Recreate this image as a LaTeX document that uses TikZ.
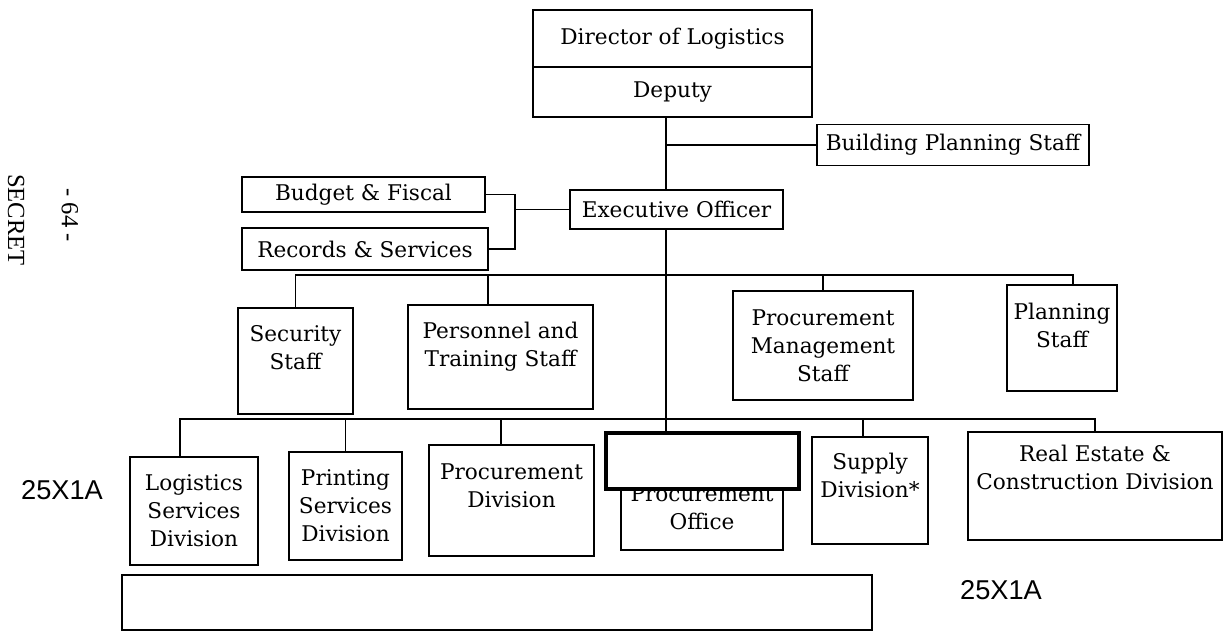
\documentclass[tikz,border=0pt]{standalone}
\usepackage{fontspec}
\setmainfont{DejaVu Serif}
\newfontfamily\secretfont{Liberation Serif}
\newfontfamily\stampfont{Liberation Sans}
\begin{document}
\begin{tikzpicture}[
    box/.style={draw, rectangle, line width=0.9pt, align=center, inner sep=2pt, font=\fontsize{12.3}{16}\selectfont},
    link/.style={line width=0.8pt},
    redact/.style={draw, rectangle, fill=white},
    stamp/.style={font=\stampfont\fontsize{15.5}{18}\selectfont}
  ]
    \useasboundingbox (0,0) rectangle (24.52,-12.64);

    % Margin marks
    \node[font=\secretfont\fontsize{14}{16}\selectfont, rotate=-90, anchor=base, inner sep=0pt] at (0.16,-4.40) (secret) {SECRET};
    \node[font=\secretfont\fontsize{14}{16}\selectfont, rotate=-90] at (1.40,-4.30) (page) {- 64 -};
    \node[stamp] at (1.24,-9.80) (stampleft) {25X1A};
    \node[stamp] at (20.02,-11.80) (stampright) {25X1A};

    % Top of the chart
    \node[box, minimum width=5.58cm, minimum height=1.14cm] at (13.45,-0.77) (director) {Director of Logistics};
    \node[box, minimum width=5.58cm, minimum height=1.00cm] at (13.45,-1.84) (deputy)   {Deputy};
    \node[box, minimum width=5.44cm, minimum height=0.82cm] at (19.06,-2.90) (bps)      {Building Planning Staff};
    \node[box, minimum width=4.26cm, minimum height=0.78cm] at (13.53,-4.19) (exec)     {Executive Officer};
    \node[box, minimum width=4.86cm, minimum height=0.70cm] at (7.27,-3.89)  (budget)   {Budget \& Fiscal};
    \node[box, minimum width=4.92cm, minimum height=0.84cm] at (7.30,-4.98)  (records)  {Records \& Services};

    % Staff offices
    \node[box, minimum width=2.30cm, minimum height=2.12cm, text depth=0.54cm] at (5.91,-7.22)  (security)  {Security\\Staff};
    \node[box, minimum width=3.70cm, minimum height=2.08cm, text depth=0.52cm] at (10.01,-7.14) (personnel) {Personnel and\\Training Staff};
    \node[box, minimum width=3.60cm, minimum height=2.18cm] at (16.46,-6.91) (procmgmt) {Procurement\\Management\\Staff};
    \node[box, minimum width=2.20cm, minimum height=2.12cm, text depth=0.52cm] at (21.24,-6.76) (planning)  {Planning\\Staff};

    % Divisions
    \node[box, minimum width=2.56cm, minimum height=2.16cm] at (3.88,-10.22) (logistics) {Logistics\\Services\\Division};
    \node[box, minimum width=2.26cm, minimum height=2.16cm] at (6.91,-10.12) (printing)  {Printing\\Services\\Division};
    \node[box, minimum width=3.30cm, minimum height=2.22cm, text depth=0.58cm] at (10.23,-10.01) (procdiv) {Procurement\\Division};
    \node[box, minimum width=3.24cm, minimum height=1.70cm] at (14.04,-10.15) (office) {Procurement\\Office};
    \node[box, minimum width=2.32cm, minimum height=2.14cm, text depth=0.60cm] at (17.40,-9.81) (supply) {Supply\\Division*};
    \node[box, minimum width=5.08cm, minimum height=2.16cm, text depth=0.74cm] at (21.90,-9.72) (realestate) {Real Estate \&\\Construction Division};

    % Connections
    \coordinate (trunk) at (13.32,0);
    \coordinate (fork) at (10.30,-4.19);
    \coordinate (staffbar) at (0,-5.50);
    \coordinate (divbar) at (0,-8.38);

    \draw[link] (deputy.south -| trunk) -- (exec.north -| trunk);
    \draw[link] (bps.west) -- (bps.west -| trunk);
    \draw[link] (exec.south -| trunk) -- (office.north -| trunk);
    \draw[link] (budget.east) -| (fork) |- (records.east);
    \draw[link] (fork) -- (exec.west);

    \draw[link] (security.north) -- (security.north |- staffbar) -- ([xshift=2.2mm]planning.north |- staffbar) -- ([xshift=2.2mm]planning.north);
    \draw[link] ([xshift=-2.5mm]personnel.north) -- ([xshift=-2.5mm]personnel.north |- staffbar);
    \draw[link] (procmgmt.north) -- (procmgmt.north |- staffbar);

    \draw[link] ([xshift=-2.8mm]logistics.north) -- ([xshift=-2.8mm]logistics.north |- divbar) -- (realestate.north |- divbar) -- (realestate.north);
    \draw[link] (printing.north) -- (printing.north |- divbar);
    \draw[link] ([xshift=-2.1mm]procdiv.north) -- ([xshift=-2.1mm]procdiv.north |- divbar);
    \draw[link] ([xshift=-1.4mm]supply.north) -- ([xshift=-1.4mm]supply.north |- divbar);

    % Blanked areas
    \node[redact, line width=1.8pt, minimum width=3.86cm, minimum height=1.12cm] at (14.05,-9.22) (blankA) {};
    \node[redact, line width=1.2pt, minimum width=15.00cm, minimum height=1.10cm] at (9.94,-12.05) (blankB) {};

  \end{tikzpicture}
\end{document}
